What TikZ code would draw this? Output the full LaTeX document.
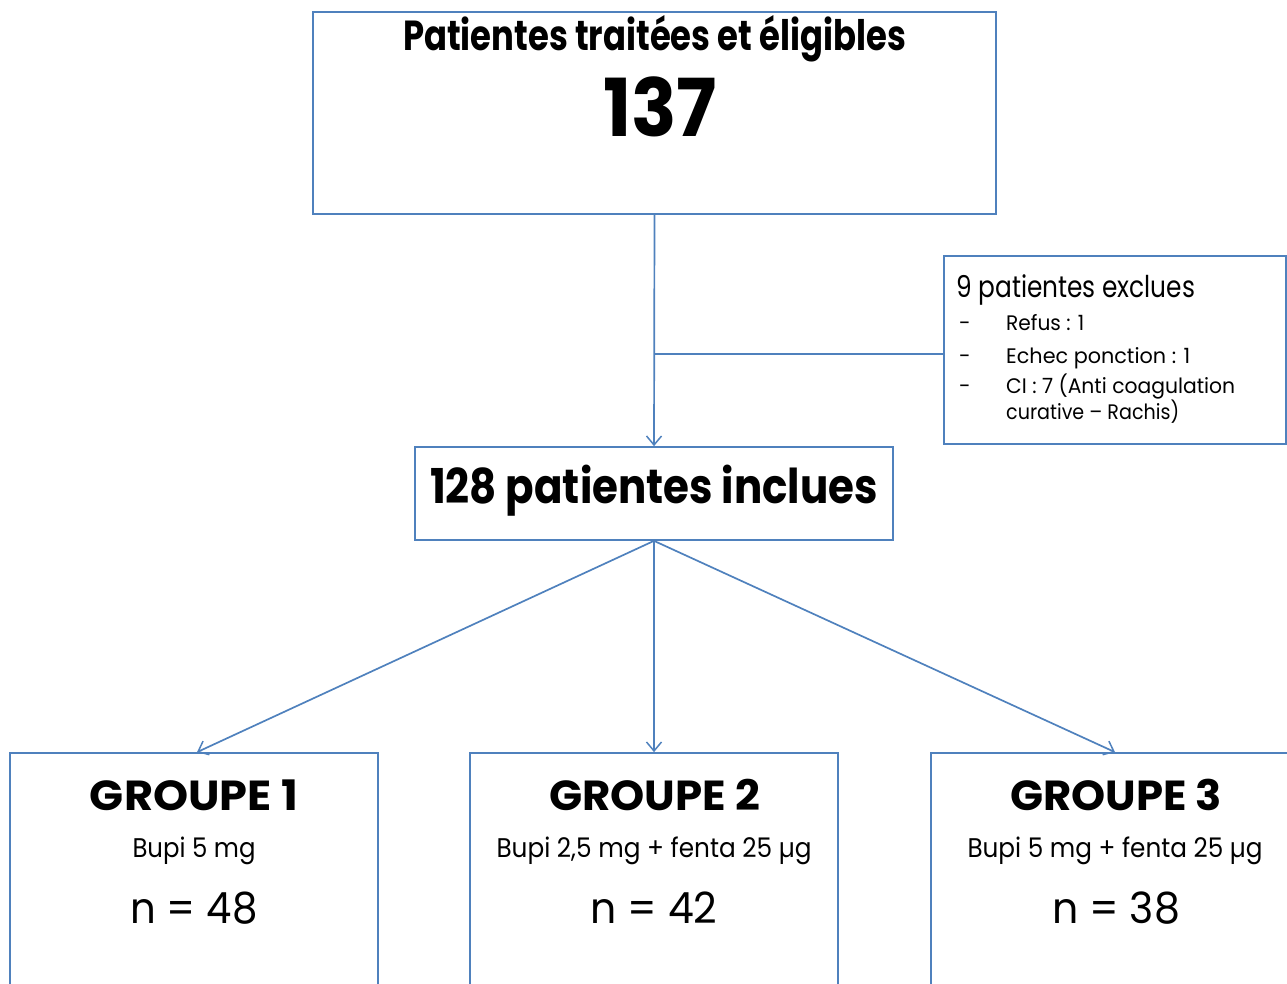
\documentclass[tikz,border=0pt]{standalone}
\usepackage{fontspec}
\setmainfont{Poppins}
\usetikzlibrary{arrows.meta}
\definecolor{ln}{RGB}{79,129,189}
\newcommand{\fitw}[2]{\resizebox{#1}{\height}{#2}}
\begin{document}
\begin{tikzpicture}[x=1pt,y=-1pt,
  box/.style={draw=ln,line width=1.7pt,rectangle,inner sep=0pt,fill=none},
  lnk/.style={draw=ln,line width=1.7pt},
  arr/.style={draw=ln,line width=1.7pt,-{Straight Barb[length=9pt,width=15pt,line width=1.5pt]}},
  txt/.style={inner sep=0pt,anchor=base,text=black}]
\useasboundingbox (0,0) rectangle (1287,984);
\clip (0,0) rectangle (1287,984);
% boxes
\node[box,minimum width=683pt,minimum height=202pt] (top) at (654.5,113) {};
\node[box,minimum width=342pt,minimum height=188pt] (excl) at (1115,350) {};
\node[box,minimum width=478pt,minimum height=93pt] (mid) at (654,493.5) {};
\node[box,minimum width=368pt,minimum height=260pt] (g1) at (194,883) {};
\node[box,minimum width=368pt,minimum height=260pt] (g2) at (654,883) {};
\node[box,minimum width=368pt,minimum height=260pt] (g3) at (1115,883) {};
% texts top
\node[txt] (t1) at (654.5,51) {\fontsize{42}{42}\selectfont\bfseries\fitw{503pt}{Patientes traitées et éligibles}};
\node[txt] (t2) at (660,137) {\fontsize{80}{80}\selectfont\bfseries\fitw{114pt}{137}};
\node[txt] (m1) at (654,503) {\fontsize{48}{48}\selectfont\bfseries\fitw{448pt}{128 patientes inclues}};
% exclusion texts
\node[txt,anchor=base west] (e0) at (956,297) {\fontsize{30}{30}\selectfont\fitw{239pt}{9 patientes exclues}};
\node[txt,anchor=base west] (d1) at (959,330) {\fontsize{21}{21}\selectfont -};
\node[txt,anchor=base west] (d2) at (959,363) {\fontsize{21}{21}\selectfont -};
\node[txt,anchor=base west] (d3) at (959,393) {\fontsize{21}{21}\selectfont -};
\node[txt,anchor=base west] (e1) at (1006,330) {\fontsize{21}{21}\selectfont\fitw{78pt}{Refus : 1}};
\node[txt,anchor=base west] (e2) at (1006,363) {\fontsize{21}{21}\selectfont\fitw{184pt}{Echec ponction : 1}};
\node[txt,anchor=base west] (e3) at (1006,393) {\fontsize{21}{21}\selectfont\fitw{229pt}{CI : 7 (Anti coagulation}};
\node[txt,anchor=base west] (e4) at (1006,419) {\fontsize{21}{21}\selectfont\fitw{173pt}{curative – Rachis)}};
% group texts
\node[txt] (g1a) at (194,810) {\fontsize{42}{42}\selectfont\bfseries\fitw{208pt}{GROUPE 1}};
\node[txt] (g1b) at (194,857) {\fontsize{27}{27}\selectfont\fitw{123pt}{Bupi 5 mg}};
\node[txt] (g1c) at (194,923) {\fontsize{43}{43}\selectfont\fitw{127pt}{n = 48}};
\node[txt] (g2a) at (654.5,810) {\fontsize{42}{42}\selectfont\bfseries\fitw{211pt}{GROUPE 2}};
\node[txt] (g2b) at (654,857) {\fontsize{27}{27}\selectfont\fitw{315pt}{Bupi 2,5 mg + fenta 25 µg}};
\node[txt] (g2c) at (654,923) {\fontsize{43}{43}\selectfont\fitw{127pt}{n = 42}};
\node[txt] (g3a) at (1116,810) {\fontsize{42}{42}\selectfont\bfseries\fitw{212pt}{GROUPE 3}};
\node[txt] (g3b) at (1115,857) {\fontsize{27}{27}\selectfont\fitw{295pt}{Bupi 5 mg + fenta 25 µg}};
\node[txt] (g3c) at (1116,923) {\fontsize{43}{43}\selectfont\fitw{128pt}{n = 38}};
% connectors
\coordinate (br) at (654,354);
\draw[arr] (top.south) -- (mid.north);
\draw[lnk] (br) -- (br -| excl.west);
\draw[arr] (mid.south) -- ([xshift=3pt]g1.north);
\draw[arr] (mid.south) -- (g2.north);
\draw[arr] (mid.south) -- (g3.north);
\end{tikzpicture}
\end{document}
